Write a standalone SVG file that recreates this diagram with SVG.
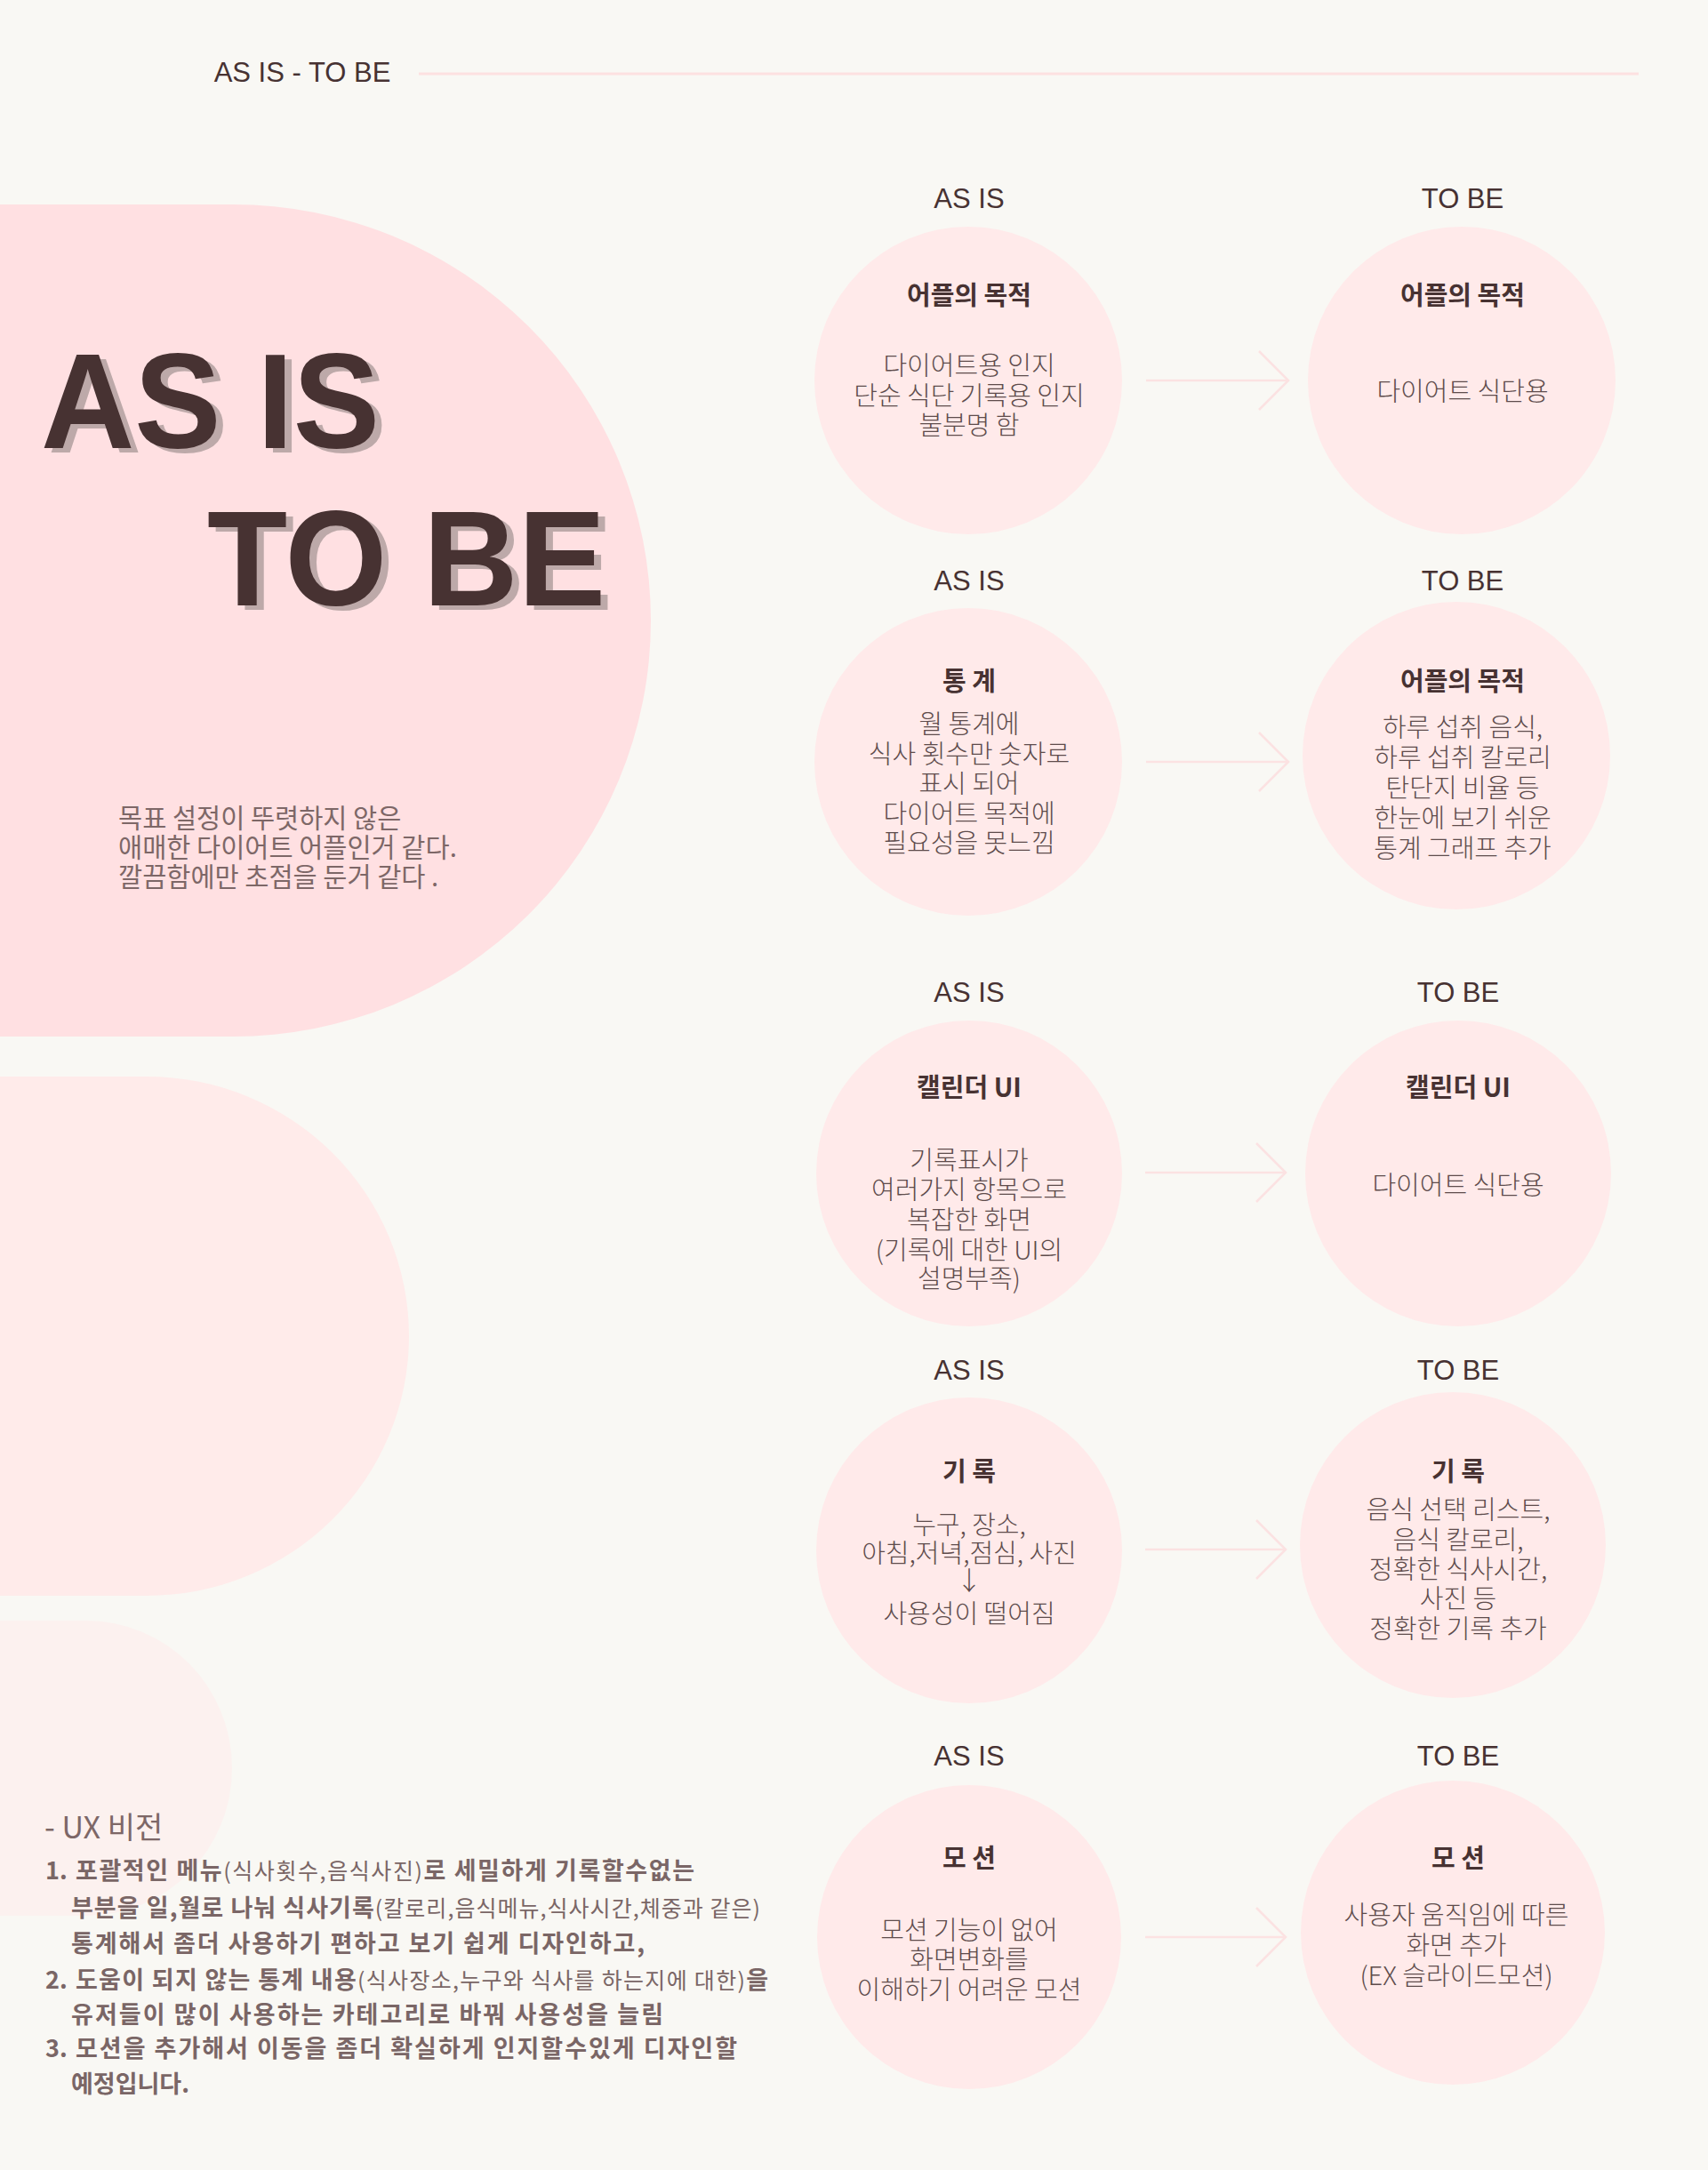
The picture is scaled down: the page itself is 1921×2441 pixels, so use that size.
<svg xmlns="http://www.w3.org/2000/svg" width="1921" height="2441" viewBox="0 0 1921 2441">
<defs>
<style>
.bg{fill:#F9F8F4}
.lbl{font-family:"Liberation Sans",Arial,sans-serif;font-size:31px;fill:#473232;text-anchor:middle}
.big{font-family:"Liberation Sans",Arial,sans-serif;font-size:152px;font-weight:700}
.bigs{fill:#BDA9A9}
.bigm{fill:#473232}
.circ{fill:#FFEAEA}
.ttl{font-family:"Noto Sans CJK KR","Noto Sans",sans-serif;font-size:29px;font-weight:700;fill:#473232;text-anchor:middle}
.body{font-family:"Noto Sans CJK KR","Noto Sans",sans-serif;font-size:29px;font-weight:300;fill:#5E4C4C;text-anchor:middle}
.para{font-family:"Noto Sans CJK KR","Noto Sans",sans-serif;font-size:29.5px;fill:#7D6767}
.list{font-family:"Noto Sans CJK KR","Noto Sans",sans-serif;font-size:27px;font-weight:700;fill:#7A6666}
.sm{font-size:25px;font-weight:400}
.conn{stroke:#FCE2E2;stroke-width:2.5;fill:none}
</style>
<marker id="chev" viewBox="0 0 36 70" refX="34" refY="35" markerWidth="36" markerHeight="70" markerUnits="userSpaceOnUse" orient="auto">
<path d="M1,2 L34,35 L1,68" fill="none" stroke="#FCE2E2" stroke-width="2.5"/>
</marker>
</defs>
<rect class="bg" x="0" y="0" width="1921" height="2441"/>

<g id="header">
<text class="lbl" x="340" y="92">AS IS - TO BE</text>
<line x1="471" y1="83" x2="1843" y2="83" stroke="#FDE1E1" stroke-width="3"/>
</g>

<g id="backdrop">
<path d="M0,230 H262 A470,468 0 0 1 262,1166 H0 Z" fill="#FFE0E2"/>
<path d="M0,1211 H165 A295,292 0 0 1 165,1795 H0 Z" fill="#FFEBEA"/>
<path d="M0,1823 H97 A164,166 0 0 1 97,2155 H0 Z" fill="#FCF1EF"/>
</g>

<g id="big-title">
<text class="big bigs" x="54" y="509" textLength="381" lengthAdjust="spacingAndGlyphs">AS IS</text>
<text class="big bigm" x="46" y="504" textLength="381" lengthAdjust="spacingAndGlyphs">AS IS</text>
<text class="big bigs" x="241" y="686" textLength="448" lengthAdjust="spacingAndGlyphs">TO BE</text>
<text class="big bigm" x="233" y="681" textLength="448" lengthAdjust="spacingAndGlyphs">TO BE</text>
</g>

<g id="summary">
<text class="para" x="133" y="931">목표 설정이 뚜렷하지 않은</text>
<text class="para" x="133" y="964">애매한 다이어트 어플인거 같다.</text>
<text class="para" x="133" y="997">깔끔함에만 초점을 둔거 같다 .</text>
</g>

<g id="connectors">
<line class="conn" x1="1289" y1="428" x2="1449" y2="428" marker-end="url(#chev)"/>
<line class="conn" x1="1289" y1="857" x2="1449" y2="857" marker-end="url(#chev)"/>
<line class="conn" x1="1288" y1="1319" x2="1446" y2="1319" marker-end="url(#chev)"/>
<line class="conn" x1="1288" y1="1743" x2="1446" y2="1743" marker-end="url(#chev)"/>
<line class="conn" x1="1288" y1="2179" x2="1446" y2="2179" marker-end="url(#chev)"/>
</g>

<g id="asis-1">
<text class="lbl" x="1090" y="234">AS IS</text>
<circle class="circ" cx="1089" cy="428" r="173"/>
<text class="ttl" x="1090" y="343">어플의 목적</text>
<text class="body" x="1090" y="422">다이어트용 인지</text>
<text class="body" x="1090" y="456">단순 식단 기록용 인지</text>
<text class="body" x="1090" y="489">불분명 함</text>
</g>
<g id="tobe-1">
<text class="lbl" x="1645" y="234">TO BE</text>
<circle class="circ" cx="1644" cy="428" r="173"/>
<text class="ttl" x="1645" y="343">어플의 목적</text>
<text class="body" x="1645" y="451">다이어트 식단용</text>
</g>

<g id="asis-2">
<text class="lbl" x="1090" y="664">AS IS</text>
<circle class="circ" cx="1089" cy="857" r="173"/>
<text class="ttl" x="1090" y="777">통 계</text>
<text class="body" x="1090" y="825">월 통계에</text>
<text class="body" x="1090" y="859">식사 횟수만 숫자로</text>
<text class="body" x="1090" y="892">표시 되어</text>
<text class="body" x="1090" y="926">다이어트 목적에</text>
<text class="body" x="1090" y="959">필요성을 못느낌</text>
</g>
<g id="tobe-2">
<text class="lbl" x="1645" y="664">TO BE</text>
<circle class="circ" cx="1638" cy="850" r="173"/>
<text class="ttl" x="1645" y="777">어플의 목적</text>
<text class="body" x="1645" y="829">하루 섭취 음식,</text>
<text class="body" x="1645" y="863">하루 섭취 칼로리</text>
<text class="body" x="1645" y="897">탄단지 비율 등</text>
<text class="body" x="1645" y="931">한눈에 보기 쉬운</text>
<text class="body" x="1645" y="965">통계 그래프 추가</text>
</g>

<g id="asis-3">
<text class="lbl" x="1090" y="1127">AS IS</text>
<circle class="circ" cx="1090" cy="1320" r="172"/>
<text class="ttl" x="1090" y="1234">캘린더 UI</text>
<text class="body" x="1090" y="1316">기록표시가</text>
<text class="body" x="1090" y="1349">여러가지 항목으로</text>
<text class="body" x="1090" y="1383">복잡한 화면</text>
<text class="body" x="1090" y="1417">(기록에 대한 UI의</text>
<text class="body" x="1090" y="1449">설명부족)</text>
</g>
<g id="tobe-3">
<text class="lbl" x="1640" y="1127">TO BE</text>
<circle class="circ" cx="1640" cy="1320" r="172"/>
<text class="ttl" x="1640" y="1234">캘린더 UI</text>
<text class="body" x="1640" y="1344">다이어트 식단용</text>
</g>

<g id="asis-4">
<text class="lbl" x="1090" y="1552">AS IS</text>
<circle class="circ" cx="1090" cy="1744" r="172"/>
<text class="ttl" x="1090" y="1666">기 록</text>
<text class="body" x="1090" y="1726">누구, 장소,</text>
<text class="body" x="1090" y="1758">아침,저녁,점심, 사진</text>
<text class="body" x="1090" y="1789">↓</text>
<text class="body" x="1090" y="1826">사용성이 떨어짐</text>
</g>
<g id="tobe-4">
<text class="lbl" x="1640" y="1552">TO BE</text>
<circle class="circ" cx="1634" cy="1738" r="172"/>
<text class="ttl" x="1640" y="1666">기 록</text>
<text class="body" x="1640" y="1709">음식 선택 리스트,</text>
<text class="body" x="1640" y="1743">음식 칼로리,</text>
<text class="body" x="1640" y="1776">정확한 식사시간,</text>
<text class="body" x="1640" y="1809">사진 등</text>
<text class="body" x="1640" y="1843">정확한 기록 추가</text>
</g>

<g id="asis-5">
<text class="lbl" x="1090" y="1986">AS IS</text>
<circle class="circ" cx="1090" cy="2179" r="171"/>
<text class="ttl" x="1090" y="2101">모 션</text>
<text class="body" x="1090" y="2182">모션 기능이 없어</text>
<text class="body" x="1090" y="2215">화면변화를</text>
<text class="body" x="1090" y="2249">이해하기 어려운 모션</text>
</g>
<g id="tobe-5">
<text class="lbl" x="1640" y="1986">TO BE</text>
<circle class="circ" cx="1634" cy="2174" r="171"/>
<text class="ttl" x="1640" y="2101">모 션</text>
<text class="body" x="1638" y="2165">사용자 움직임에 따른</text>
<text class="body" x="1638" y="2199">화면 추가</text>
<text class="body" x="1638" y="2233">(EX 슬라이드모션)</text>
</g>

<g id="ux-vision">
<text class="para" x="50" y="2068" style="font-size:34px">- UX 비전</text>
<text class="list" x="51" y="2114">1.</text>
<text class="list" x="85" y="2114" textLength="696">포괄적인 메뉴<tspan class="sm">(식사횟수,음식사진)</tspan>로 세밀하게 기록할수없는</text>
<text class="list" x="80" y="2156" textLength="775">부분을 일,월로 나눠 식사기록<tspan class="sm">(칼로리,음식메뉴,식사시간,체중과 같은)</tspan></text>
<text class="list" x="80" y="2196" textLength="645">통계해서 좀더 사용하기 편하고 보기 쉽게 디자인하고,</text>
<text class="list" x="51" y="2237">2.</text>
<text class="list" x="85" y="2237" textLength="779">도움이 되지 않는 통계 내용<tspan class="sm">(식사장소,누구와 식사를 하는지에 대한)</tspan>을</text>
<text class="list" x="80" y="2276" textLength="666">유저들이 많이 사용하는 카테고리로 바꿔 사용성을 늘림</text>
<text class="list" x="51" y="2314">3.</text>
<text class="list" x="85" y="2314" textLength="744">모션을 추가해서 이동을 좀더 확실하게 인지할수있게 디자인할</text>
<text class="list" x="80" y="2354">예정입니다.</text>
</g>
</svg>
